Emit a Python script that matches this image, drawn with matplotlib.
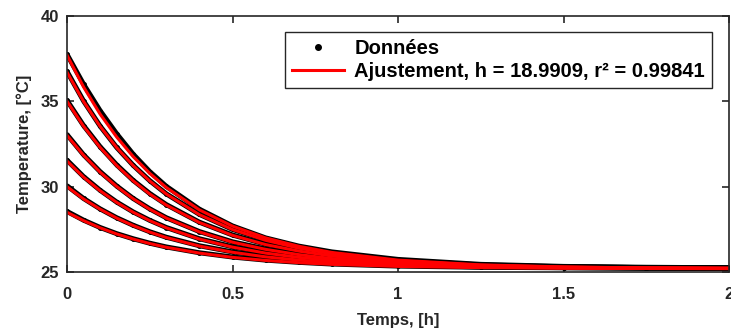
import matplotlib
matplotlib.use('Agg')
import matplotlib.pyplot as plt
from matplotlib.lines import Line2D

plt.rcParams['font.family'] = ['Liberation Sans', 'DejaVu Sans']
plt.rcParams['font.weight'] = 'bold'

# time samples, hours
temps_h = [0, 0.05, 0.1, 0.15, 0.2, 0.25, 0.3, 0.4, 0.5, 0.6, 0.7, 0.8, 1.0, 1.25, 1.5, 1.75, 2.0]

# fitted curves (red), degC
fit_A = [37.70, 35.84, 34.25, 32.91, 31.76, 30.78, 29.95, 28.64, 27.69, 27.00, 26.51, 26.15, 25.70, 25.42, 25.30, 25.24, 25.22]
fit_B = [36.70, 34.99, 33.53, 32.29, 31.23, 30.33, 29.57, 28.36, 27.49, 26.86, 26.40, 26.07, 25.66, 25.40, 25.29, 25.24, 25.22]
fit_C = [35.00, 33.54, 32.30, 31.24, 30.34, 29.57, 28.92, 27.90, 27.15, 26.61, 26.23, 25.94, 25.59, 25.37, 25.28, 25.23, 25.22]
fit_D = [33.00, 31.84, 30.85, 30.01, 29.29, 28.68, 28.16, 27.35, 26.75, 26.33, 26.02, 25.79, 25.51, 25.34, 25.26, 25.23, 25.21]
fit_E = [31.50, 30.56, 29.76, 29.08, 28.50, 28.01, 27.59, 26.93, 26.46, 26.11, 25.86, 25.68, 25.45, 25.31, 25.25, 25.22, 25.21]
fit_F = [30.00, 29.28, 28.68, 28.16, 27.72, 27.34, 27.02, 26.52, 26.16, 25.89, 25.70, 25.56, 25.39, 25.28, 25.24, 25.22, 25.21]
fit_G = [28.50, 28.01, 27.59, 27.23, 26.93, 26.67, 26.45, 26.11, 25.86, 25.68, 25.55, 25.45, 25.33, 25.26, 25.23, 25.21, 25.20]

# measured points (black)
data_A = [37.75, 36.00, 34.45, 33.10, 31.90, 30.88, 30.02, 28.68, 27.70, 27.00, 26.52, 26.18, 25.74, 25.45, 25.33, 25.28, 25.25]
data_B = [36.75, 35.02, 33.55, 32.30, 31.25, 30.35, 29.58, 28.38, 27.50, 26.88, 26.42, 26.08, 25.68, 25.42, 25.31, 25.26, 25.24]
data_C = [35.05, 33.58, 32.34, 31.28, 30.37, 29.60, 28.95, 27.92, 27.17, 26.63, 26.25, 25.96, 25.61, 25.39, 25.30, 25.26, 25.24]
data_D = [33.05, 31.87, 30.88, 30.04, 29.31, 28.70, 28.18, 27.37, 26.77, 26.35, 26.04, 25.81, 25.53, 25.36, 25.29, 25.25, 25.23]
data_E = [31.55, 30.59, 29.79, 29.10, 28.52, 28.03, 27.61, 26.95, 26.48, 26.13, 25.88, 25.70, 25.47, 25.33, 25.27, 25.24, 25.23]
data_F = [30.05, 29.31, 28.70, 28.18, 27.74, 27.36, 27.04, 26.54, 26.18, 25.91, 25.72, 25.58, 25.41, 25.30, 25.26, 25.24, 25.23]
data_G = [28.55, 28.04, 27.61, 27.25, 26.95, 26.69, 26.47, 26.13, 25.88, 25.70, 25.57, 25.47, 25.35, 25.28, 25.25, 25.23, 25.22]

fits = [fit_A, fit_B, fit_C, fit_D, fit_E, fit_F, fit_G]
datas = [data_A, data_B, data_C, data_D, data_E, data_F, data_G]

label_data = 'Données'
label_fit = 'Ajustement, h = 18.9909, r² = 0.99841'

fig = plt.figure(figsize=(7.31, 3.33), dpi=100)
ax = fig.add_axes([0.0917, 0.183, 0.9056, 0.769])

for d in datas:
    ax.plot(temps_h, d, color='black', lw=3.6, marker='.', ms=5, solid_capstyle='round')
for f in fits:
    ax.plot(temps_h, f, color='red', lw=2.2)

ax.set_xlim(0, 2)
ax.set_ylim(25, 40)
ax.set_xticks([0, 0.5, 1, 1.5, 2])
ax.set_xticklabels(['0', '0.5', '1', '1.5', '2'])
ax.set_yticks([25, 30, 35, 40])

dark = '#262626'
for s in ax.spines.values():
    s.set_color(dark)
    s.set_linewidth(1.2)
ax.tick_params(direction='in', length=5, width=1.2, colors=dark, labelsize=12,
               top=True, right=True)
ax.tick_params(axis='x', pad=11)
ax.tick_params(axis='y', pad=6)
for lab in ax.get_xticklabels() + ax.get_yticklabels():
    lab.set_fontweight('bold')

ax.set_xlabel('Temps, [h]', fontsize=12, fontweight='bold', color=dark, labelpad=8)
ax.set_ylabel('Temperature, [°C]', fontsize=12, fontweight='bold', color=dark, labelpad=6)

handles = [Line2D([], [], color='black', marker='.', ms=8, linestyle='none'),
           Line2D([], [], color='red', lw=2.2)]
leg = ax.legend(handles, [label_data, label_fit], loc='upper right',
                bbox_to_anchor=(0.974, 0.9375), borderaxespad=0, fancybox=False,
                edgecolor=dark, framealpha=1, handlelength=2.6, handletextpad=0.5,
                prop={'size': 14.5, 'weight': 'bold'}, borderpad=0.35, labelspacing=0.2)
leg.get_frame().set_linewidth(1.0)

plt.savefig('out.png', dpi=100)
